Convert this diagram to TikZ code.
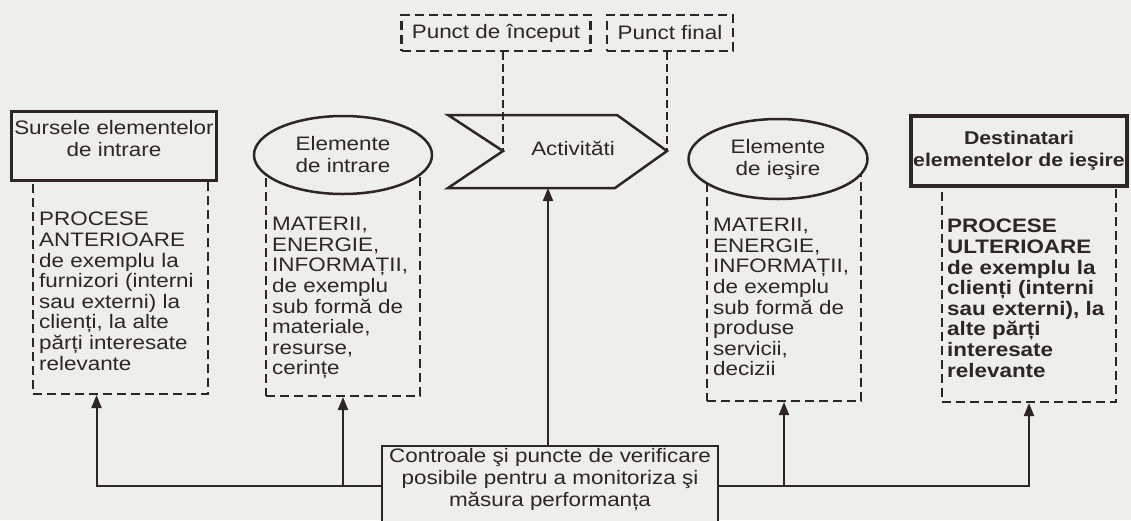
\documentclass[tikz,border=0pt]{standalone}
\usepackage{fontspec}
\setmainfont[FakeStretch=1.15]{Liberation Sans}
\usepackage{xcolor}
\usetikzlibrary{calc, shapes.geometric, arrows.meta}

\definecolor{bg}{RGB}{238,238,236}
\definecolor{ink}{RGB}{45,38,36}

\begin{document}
\begin{tikzpicture}[x = 1pt, y = -1pt, ink,
		txt/.style = {inner sep = 0pt, align = left, anchor = north west, font = \fontsize{19.5}{20.6}\selectfont},
		ctxt/.style = {inner sep = 0pt, align = center, font = \fontsize{19.5}{22}\selectfont},
		dashbox/.style = {draw = ink, line width = 2pt, dash pattern = on 9pt off 5pt, fill = bg, inner sep = 0pt, anchor = south west},
		punct/.style = {draw = ink, line width = 2.4pt, dash pattern = on 9pt off 5pt, fill = bg, ctxt, minimum height = 36},
		solidbox/.style = {draw = ink, line width = 3.5pt, fill = bg, ctxt},
		oval/.style = {ellipse, draw = ink, line width = 2.5pt, fill = bg, ctxt, inner sep = 0pt},
		fb/.style = {draw = ink, line width = 2pt, -{Triangle[length = 13pt, width = 10pt]}},
		thindash/.style = {draw = ink, line width = 1.8pt, dash pattern = on 8pt off 4pt}]
		\def\xMAX{1131};
		\def\yMAX{520};

		\clip (0,0) rectangle (\xMAX,\yMAX);
		\fill [bg] (0,0) rectangle (\xMAX,\yMAX);

		\node [dashbox, minimum width = 175, minimum height = 245] (prevProc) at (32,395) {};
		\node [dashbox, minimum width = 154, minimum height = 242] (inProc) at (265,397) {};
		\node [dashbox, minimum width = 154, minimum height = 242] (outProc) at (706,402) {};
		\node [dashbox, minimum width = 174, minimum height = 253] (nextProc) at (941,403) {};

		\node [solidbox, minimum width = 205, minimum height = 69] (src) at (114,146) {Sursele elementelor\\de intrare\\[-7pt]};
		\node [solidbox, line width = 4pt, minimum width = 216, minimum height = 70, font = \fontsize{18.5}{22}\selectfont\bfseries] (dest) at (1019,151) {Destinatari\\elementelor de ieşire};

		\begin{scope}
			\node [oval, minimum width = 178, minimum height = 78] (inEl) at (343,155) {Elemente\\de intrare};
			\node [oval, minimum width = 179, minimum height = 80] (outEl) at (778,159) {Elemente\\de ieşire};
		\end{scope}

		\node [txt] (prevTxt) at (39,212) {PROCESE\\ANTERIOARE\\de exemplu la\\furnizori (interni\\sau externi) la\\clienți, la alte\\părți interesate\\relevante};
		\node [txt] (inTxt) at (272,217) {MATERII,\\ENERGIE,\\INFORMAȚII,\\de exemplu\\sub formă de\\materiale,\\resurse,\\cerințe};
		\node [txt] (outTxt) at (713,218) {MATERII,\\ENERGIE,\\INFORMAȚII,\\de exemplu\\sub formă de\\produse\\servicii,\\decizii};
		\node [txt, font = \fontsize{19.5}{20.6}\selectfont\bfseries] (nextTxt) at (947,219) {PROCESE\\ULTERIOARE\\de exemplu la\\clienți (interni\\sau externi), la\\alte părți\\interesate\\relevante};

		\coordinate (actIn) at (503,151);
		\coordinate (actOut) at (667,151);
		\coordinate (actBot) at (548,188);
		\draw [ink, line width = 2.5pt, fill = bg] (448,115) -- (617,115) -- (actOut) -- (615,188) -- (448,188) -- (actIn) -- cycle;
		\node [ctxt] (act) at (573,148) {Activităti};

		\node [punct, minimum width = 189] (start) at (496,33) {Punct de început};
		\node [punct, minimum width = 126] (end) at (670,33) {Punct final};
		\draw [thindash] (start.south -| actIn) -- (actIn);
		\draw [thindash] (end.south -| actOut) -- (actOut);

		\node [draw = ink, line width = 2pt, fill = bg, ctxt, minimum width = 336, minimum height = 80, anchor = north] (ctrl) at (550,445) {Controale şi puncte de verificare\\posibile pentru a monitoriza şi\\măsura performanța\\[-5pt]};

		\draw [fb] (ctrl.north -| actBot) -- (actBot);
		\draw [fb] (ctrl.west) -| ($ (prevProc.south) + (-24,0) $);
		\draw [fb] (ctrl.west -| inProc.south) -- (inProc.south);
		\draw [fb] (ctrl.east) -| (nextProc.south);
		\draw [fb] (ctrl.east -| outProc.south) -- (outProc.south);
	\end{tikzpicture}
\end{document}
